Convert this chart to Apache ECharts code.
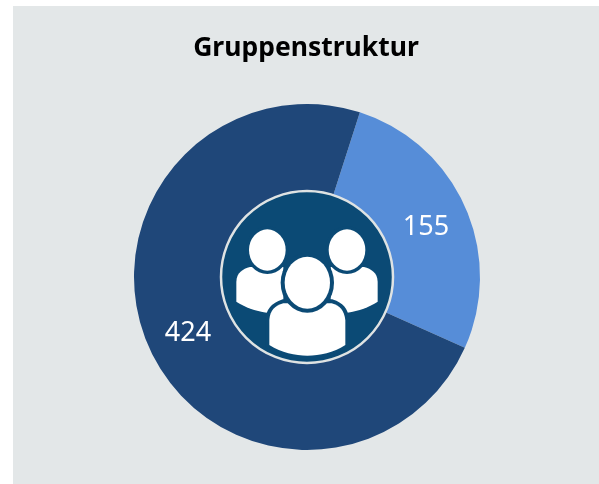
<!DOCTYPE html>
<html><head><meta charset="utf-8">
<style>html,body{margin:0;padding:0;background:#fff}#c{width:599px;height:484px}</style>
<script src="https://cdn.jsdelivr.net/npm/echarts@6/dist/echarts.min.js"></script>
</head><body><div id="c"></div>
<script>
const categories = ['Gruppe A', 'Gruppe B'];
const values = [155, 424];
const colors = ['#568dd8', '#1f4779'];
const labelOffsets = [[-2, 4], [2, 2]];
const titleText = 'Gruppenstruktur';
const cx = 307, cy = 277;
const ICON = '#0b4a75';
const chart = echarts.init(document.getElementById('c'), null, {renderer: 'canvas'});
function person(path, style){
  return {type:'path', shape:{pathData:path}, style:Object.assign({fill:'#fff'}, style||{})};
}
function head(x,y,rx,ry,color){
  const d = `M${x-rx},${y} A${rx},${ry} 0 1 1 ${x+rx},${y} A${rx},${ry} 0 1 1 ${x-rx},${y} Z`;
  return person(d, {fill:color||'#fff'});
}
const BODY_L = 'M109,335 C110,308 128,297 150,291 L250,291 L250,432 L200,428 C165,422 135,412 109,395 Z';
const BODY_R = 'M533,335 C532,308 514,297 492,291 L392,291 L392,432 L442,428 C477,422 507,412 533,395 Z';
const BODY_C = 'M208,525 L208,450 C210,420 225,408 250,400 L395,400 C420,408 432,420 436,450 L436,525 C400,548 360,557 322,557 C285,557 245,548 208,525 Z';
function renderIcon(){
  return {type:'group', children:[
    {type:'circle',shape:{cx:cx,cy:cy,r:86},style:{fill:ICON,stroke:'#dfe3e3',lineWidth:2.5}},
    {type:'group', x:200, y:170, scaleX:1/3, scaleY:1/3, children:[
      person(BODY_L),
      person(BODY_R),
      head(202,240,65,72,ICON),
      head(441,240,65,72,ICON),
      head(202,240,55,62),
      head(441,240,55,62),
      person(BODY_C,{stroke:ICON,lineWidth:24}),
      person(BODY_C),
      head(322,338,80,90,ICON),
      head(322,338,68,78)
    ]}
  ]};
}
chart.setOption({
  animation:false,
  title:{text:titleText,left:301,top:30,textAlign:'center',
    textStyle:{fontFamily:'Noto Sans',fontWeight:'bold',fontSize:26.5,color:'#000'}},
  graphic:[
    {type:'rect',z:-1,silent:true,shape:{x:13,y:6,width:586,height:478},style:{fill:'#e3e7e8'}}
  ],
  series:[{
    type:'pie',
    center:[cx,cy],
    radius:[86,173],
    startAngle:72.2,
    clockwise:true,
    silent:true,
    data:categories.map((n,i)=>({name:n,value:values[i],itemStyle:{color:colors[i]},label:{offset:labelOffsets[i]}})),
    label:{show:true,position:'inside',formatter:'{c}',color:'#fff',fontFamily:'Noto Sans',fontSize:27},
    labelLine:{show:false}
  },{
    type:'custom',
    coordinateSystem:'none',
    silent:true,
    z:10,
    data:[[0]],
    renderItem:renderIcon
  }]
});
</script></body></html>
